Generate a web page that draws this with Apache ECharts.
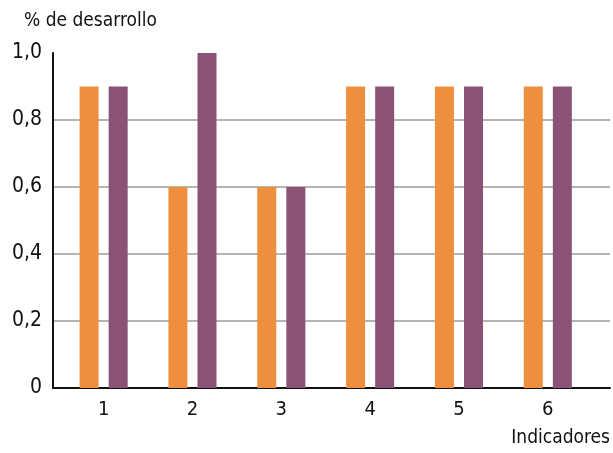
<!DOCTYPE html>
<html>
<head>
<meta charset="utf-8">
<script src="https://cdn.jsdelivr.net/npm/echarts@6/dist/echarts.min.js"></script>
<style>
  html, body { margin: 0; padding: 0; background: #fff; }
  #chart { width: 613px; height: 453px; }
</style>
</head>
<body>
<div id="chart"></div>
<script>
const indicadores = [1, 2, 3, 4, 5, 6];
const serieNaranja = [0.9, 0.6, 0.6, 0.9, 0.9, 0.9];
const serieMorada = [0.9, 1.0, 0.6, 0.9, 0.9, 0.9];
const yTicks = [0, 0.2, 0.4, 0.6, 0.8, 1.0];

const font = '"DejaVu Sans Condensed", sans-serif';

function pairs(values) {
  return indicadores.map((c, i) => [c, values[i]]);
}

const chart = echarts.init(document.getElementById('chart'));
chart.setOption({
  animation: false,
  textStyle: { fontFamily: font },
  grid: { left: 53, right: 3, top: 53, bottom: 65 },
  xAxis: {
    type: 'value',
    min: 0.43,
    max: 6.7,
    axisLine: { show: true, lineStyle: { color: '#111', width: 2 } },
    axisTick: { show: false },
    splitLine: { show: false },
    axisLabel: {
      customValues: indicadores,
      color: '#111',
      fontSize: 20,
      fontFamily: font,
      margin: 12
    }
  },
  yAxis: {
    type: 'value',
    min: yTicks[0],
    max: yTicks[yTicks.length - 1],
    interval: 0.2,
    axisLine: { show: true, lineStyle: { color: '#111', width: 2 } },
    axisTick: { show: false },
    splitLine: { show: true, showMaxLine: false, lineStyle: { color: '#9c9c96', width: 1.5 } },
    axisLabel: {
      color: '#111',
      fontSize: 21,
      fontFamily: font,
      margin: 11,
      formatter: v => v === 0 ? '0' : v.toFixed(1).replace('.', ',')
    }
  },
  graphic: [
    {
      type: 'text', left: 24, top: 12,
      style: { text: '% de desarrollo', fill: '#111', font: '19px ' + font }
    },
    {
      type: 'text', right: 3, top: 429,
      style: { text: 'Indicadores', fill: '#111', font: '19px ' + font }
    }
  ],
  series: [
    {
      type: 'bar', data: pairs(serieNaranja), barWidth: 19, barGap: '53%',
      itemStyle: { color: '#ee8e3f' }
    },
    {
      type: 'bar', data: pairs(serieMorada), barWidth: 19, barGap: '53%',
      itemStyle: { color: '#8a5275' }
    }
  ]
});
</script>
</body>
</html>
